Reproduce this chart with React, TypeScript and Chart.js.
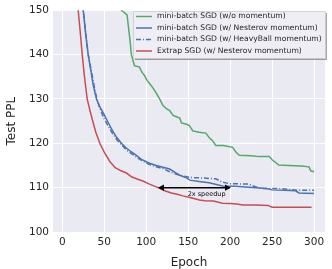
import React, { useEffect, useRef } from "react";
import { Chart, registerables } from "chart.js";

Chart.register(...registerables);

// ---- data ----
const greenX = [68, 70.5, 74, 77.3, 79, 80.4, 82.4, 86, 92, 95, 98, 101, 104, 108, 112, 116, 120, 124, 128, 132, 136, 140, 142, 148, 151.5, 155.5, 163, 171, 175, 179, 183, 192, 203, 207, 211, 225, 235, 246.7, 250, 258, 270, 285, 294, 296, 300];
const greenY = [160, 150, 149.5, 148.9, 146, 143.8, 140, 137.5, 137.2, 136, 135.3, 134.2, 133.5, 132.5, 131.3, 130, 128.5, 127.8, 127.4, 126.3, 126, 125.7, 124.6, 124.3, 124, 122.8, 122.5, 122.3, 121.3, 120.6, 119.5, 119.5, 119.1, 118, 117.3, 117.2, 117, 117, 116.3, 115.1, 115, 114.9, 114.7, 113.8, 113.6];

const nesterovX = [21, 25, 28, 30.9, 34, 37, 40.8, 44, 48.7, 54.7, 60, 65, 70.5, 76, 82, 88.3, 95, 104, 112, 120, 128, 135.8, 140, 148, 152, 163, 175, 191, 205, 231, 243, 250, 265, 278, 282, 300];
const nesterovY = [165, 150, 144.5, 140, 136.5, 133, 130, 128.5, 126.9, 124.7, 122.8, 121.3, 120, 119, 118.1, 117.3, 116.3, 115.5, 115, 114.6, 114.2, 113.3, 112.8, 112.2, 111.7, 111.4, 111.1, 110.4, 110.3, 110, 109.8, 109.5, 109.4, 109.3, 108.8, 108.7];

const heavyX = [21, 25, 28, 31, 35, 40, 45, 50, 55, 60, 66, 71, 77, 83, 90, 96, 104, 112, 120, 128, 136, 145, 152, 165, 183, 190, 199, 222, 230, 240, 260, 280, 300];
const heavyY = [165, 150, 145, 140, 136, 131, 127.8, 125.5, 123.8, 122.2, 120.6, 119.6, 118.4, 117.6, 116.7, 116, 115.2, 114.7, 114.3, 113.6, 113, 112.6, 112.3, 112.2, 112, 111.3, 110.9, 110.8, 110.2, 109.8, 109.8, 109.4, 109.4];

const extrapX = [15, 19, 21.5, 23.8, 26.5, 29.7, 33.7, 36.8, 40, 44.8, 50, 56.7, 63, 70, 76.5, 83, 90, 96, 104, 114, 122, 130, 137, 143.7, 152, 158, 163.5, 170, 180, 191, 200, 208, 215, 230, 245, 250, 260, 280, 297];
const extrapY = [165, 150, 145, 140, 135, 130, 126.9, 124.7, 122.5, 120, 118, 115.9, 114.5, 113.8, 113.3, 112.4, 111.9, 111.5, 110.8, 110, 109.3, 108.8, 108.5, 108.15, 107.8, 107.5, 107.2, 107.05, 107, 106.5, 106.4, 106.3, 106.1, 106.1, 106, 105.6, 105.6, 105.6, 105.6];

const seriesLabels = [
  "mini-batch SGD (w/o momentum)",
  "mini-batch SGD (w/ Nesterov momentum)",
  "mini-batch SGD (w/ HeavyBall momentum)",
  "Extrap SGD (w/ Nesterov momentum)",
];
const seriesColors = ["#55A868", "#4C72B0", "#4C72B0", "#C44E52"];

const xTicks = [0, 50, 100, 150, 200, 250, 300];
const yTicks = [100, 110, 120, 130, 140, 150];

const arrowFromX = 114;
const arrowToX = 201;
const arrowY = 110;
const arrowText = "2x speedup";
const arrowTextX = 172;
const arrowTextY = 108.4;

const zip = (xs: number[], ys: number[]) => xs.map((x, i) => ({ x, y: ys[i] }));

const bgPlugin = {
  id: "bgPlugin",
  beforeDraw(chart: any) {
    const { ctx, chartArea: a } = chart;
    ctx.save();
    ctx.fillStyle = "#ffffff";
    ctx.fillRect(0, 0, chart.width, chart.height);
    ctx.fillStyle = "#EAEAF2";
    ctx.fillRect(a.left, a.top, a.right - a.left, a.bottom - a.top);
    ctx.restore();
  },
};

const overlayPlugin = {
  id: "overlayPlugin",
  afterDatasetsDraw(chart: any) {
    const { ctx } = chart;
    const xs = chart.scales.x;
    const ys = chart.scales.y;
    // arrow
    const x1 = xs.getPixelForValue(arrowFromX);
    const x2 = xs.getPixelForValue(arrowToX);
    const yy = ys.getPixelForValue(arrowY);
    ctx.save();
    ctx.strokeStyle = "#000";
    ctx.fillStyle = "#000";
    ctx.lineWidth = 1.5;
    const hl = 6, hw = 3.2;
    ctx.beginPath();
    ctx.moveTo(x1 + hl - 1, yy);
    ctx.lineTo(x2 - hl + 1, yy);
    ctx.stroke();
    ctx.beginPath();
    ctx.moveTo(x1, yy);
    ctx.lineTo(x1 + hl, yy - hw);
    ctx.lineTo(x1 + hl, yy + hw);
    ctx.closePath();
    ctx.fill();
    ctx.beginPath();
    ctx.moveTo(x2, yy);
    ctx.lineTo(x2 - hl, yy - hw);
    ctx.lineTo(x2 - hl, yy + hw);
    ctx.closePath();
    ctx.fill();
    ctx.font = "6.5px 'DejaVu Sans'";
    ctx.textAlign = "center";
    ctx.textBaseline = "middle";
    ctx.fillText(arrowText, xs.getPixelForValue(arrowTextX), ys.getPixelForValue(arrowTextY));
    ctx.restore();

    // legend
    const bx = 133, by = 11, bw = 192, bh = 47;
    ctx.save();
    ctx.fillStyle = "rgba(0,0,0,0.35)";
    ctx.fillRect(bx + 2, by + 2, bw, bh);
    ctx.fillStyle = "#EEEEF4";
    ctx.strokeStyle = "#CCCCCC";
    ctx.lineWidth = 0.8;
    ctx.beginPath();
    ctx.rect(bx + 0.5, by + 0.5, bw, bh);
    ctx.fill();
    ctx.stroke();
    ctx.font = "10px 'DejaVu Sans'";
    const widest = Math.max(...seriesLabels.map((l) => ctx.measureText(l).width));
    const fs = (10 * 165) / widest;
    ctx.font = `${fs.toFixed(2)}px 'DejaVu Sans'`;
    ctx.textAlign = "left";
    ctx.textBaseline = "middle";
    const rowY = [16.5, 28, 39.5, 51];
    seriesLabels.forEach((lab, i) => {
      const y = rowY[i];
      ctx.strokeStyle = seriesColors[i];
      ctx.lineWidth = 1.5;
      ctx.setLineDash(i === 2 ? [5, 2, 1, 2] : []);
      ctx.beginPath();
      ctx.moveTo(136, y);
      ctx.lineTo(152, y);
      ctx.stroke();
      ctx.setLineDash([]);
      ctx.fillStyle = "#262626";
      ctx.fillText(lab, 157, y);
    });
    ctx.restore();
  },
};

export default function App() {
  const ref = useRef<HTMLCanvasElement | null>(null);
  useEffect(() => {
    document.body.style.margin = "0";
    const canvas = ref.current!;
    const tickFont = { family: "'DejaVu Sans'", size: 10.5 };
    const chart = new Chart(canvas, {
      type: "line",
      data: {
        datasets: [
          { label: seriesLabels[0], data: zip(greenX, greenY), borderColor: seriesColors[0], borderWidth: 1.5, pointRadius: 0, clip: 0 as any },
          { label: seriesLabels[1], data: zip(nesterovX, nesterovY), borderColor: seriesColors[1], borderWidth: 1.5, pointRadius: 0, clip: 0 as any },
          { label: seriesLabels[2], data: zip(heavyX, heavyY), borderColor: seriesColors[2], borderWidth: 1.5, borderDash: [5, 2, 1, 2], pointRadius: 0, clip: 0 as any },
          { label: seriesLabels[3], data: zip(extrapX, extrapY), borderColor: seriesColors[3], borderWidth: 1.5, pointRadius: 0, clip: 0 as any },
        ],
      },
      options: {
        animation: false,
        responsive: false,
        devicePixelRatio: 1,
        layout: { padding: { top: 5, right: 7, left: 0, bottom: 0 } },
        plugins: { legend: { display: false }, tooltip: { enabled: false } },
        scales: {
          x: {
            type: "linear",
            min: -11,
            max: 313,
            afterBuildTicks: (s: any) => { s.ticks = xTicks.map((v) => ({ value: v })); },
            afterFit: (s: any) => { s.height = 37; },
            border: { display: false },
            grid: { color: "#ffffff", lineWidth: 1, drawTicks: false },
            ticks: { color: "#262626", font: tickFont, padding: 4, maxRotation: 0 },
            title: { display: true, text: "Epoch", color: "#262626", font: { family: "'DejaVu Sans'", size: 12 }, padding: { top: 0, bottom: -1 } },
          },
          y: {
            type: "linear",
            min: 100,
            max: 150,
            afterBuildTicks: (s: any) => { s.ticks = yTicks.map((v) => ({ value: v })); },
            afterFit: (s: any) => { s.width = 53; },
            border: { display: false },
            grid: { color: "#ffffff", lineWidth: 1, drawTicks: false },
            ticks: { color: "#262626", font: tickFont, padding: 4 },
            title: { display: true, text: "Test PPL", color: "#262626", font: { family: "'DejaVu Sans'", size: 12 }, padding: { top: 5, bottom: 0 } },
          },
        },
      },
      plugins: [bgPlugin, overlayPlugin],
    } as any);
    return () => chart.destroy();
  }, []);
  return (
    <div style={{ width: 332, height: 269 }}>
      <canvas ref={ref} width={332} height={269} style={{ width: 332, height: 269, display: "block" }} />
    </div>
  );
}
